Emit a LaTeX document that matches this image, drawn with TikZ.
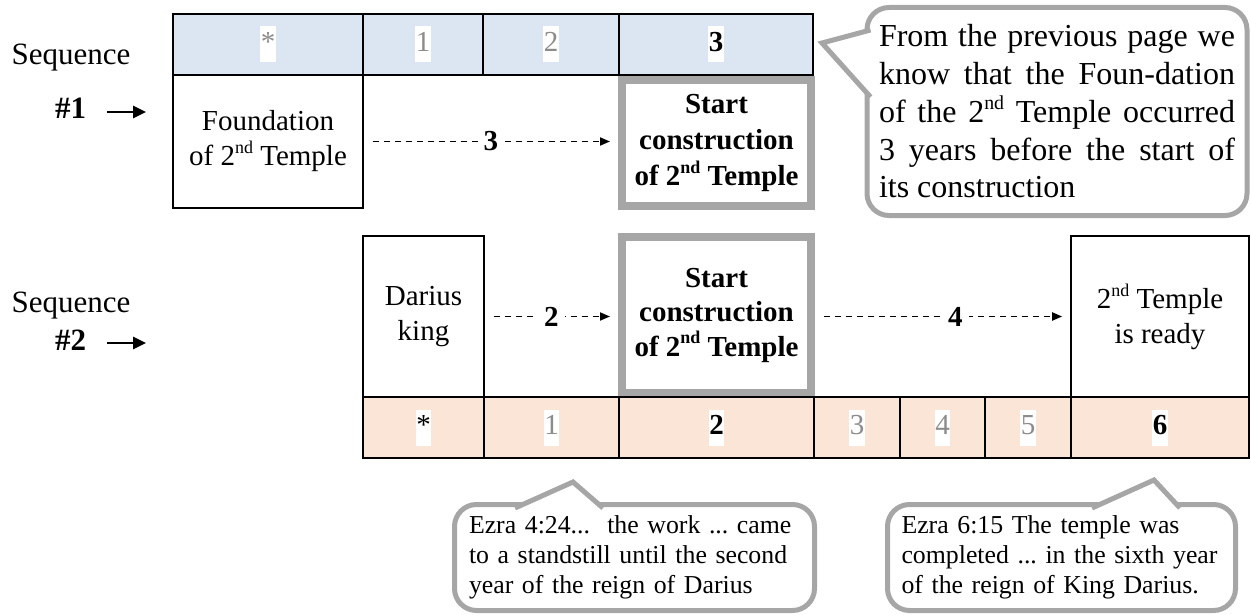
\documentclass[tikz,border=0pt]{standalone}
\usepackage{fontspec}
\usepackage{graphicx}
\setmainfont{Liberation Serif}
\usetikzlibrary{arrows.meta, positioning, calc}

\definecolor{yearblue}{HTML}{DCE6F2}
\definecolor{yearpeach}{HTML}{FBE5D6}
\definecolor{framegray}{HTML}{A6A6A6}
\definecolor{digitgray}{HTML}{8C8C8C}

\newcommand{\hlite}[1]{{\setlength{\fboxsep}{0.5pt}\colorbox{white}{\strut#1}}}
\newcommand{\gd}[1]{\hlite{\color{digitgray}#1}}
\newcommand{\nd}{2\raisebox{0.42em}{\scalebox{0.62}{nd}}}

\begin{document}
\begin{tikzpicture}[
        x=1pt, y=-1pt,
        yearcell/.style={draw, line width=1.6pt, minimum height=61pt, inner sep=0pt, font=\fontsize{29}{35}\selectfont},
        eventbox/.style={draw, line width=1.6pt, inner sep=0pt, align=center, font=\fontsize{29}{35}\selectfont},
        startbox/.style={draw=framegray, line width=8pt, inner sep=0pt, align=center, font=\fontsize{29}{34.5}\selectfont\bfseries},
        gapline/.style={dash pattern=on 6pt off 5pt, line width=1.8pt, -{Triangle[length=10pt,width=8pt]}, shorten <=9pt, shorten >=8pt},
        gaplabel/.style={fill=white, inner sep=6pt, font=\fontsize{29}{35}\selectfont\bfseries},
        seqlabel/.style={inner sep=0pt, anchor=base, font=\fontsize{31}{37}\selectfont},
        seqarrow/.style={line width=2.6pt, -{Triangle[length=13pt,width=12pt]}, shorten <=21pt},
        notebox/.style={draw=framegray, line width=5pt, rounded corners=22pt, inner sep=0pt},
        notetip/.style={fill=white, draw=framegray, line width=5pt, line join=miter},
    ]
    \useasboundingbox (0,0) rectangle (1251,615);

    % Sequence 1: years on top
    \foreach \name/\xa/\xb/\txt in {ya0/173/363/\gd{*}, ya1/363/483/\gd{1}, ya2/483/619/\gd{2}, ya3/619/813/\hlite{\textbf{3}}} {
        \pgfmathsetmacro{\cellw}{\xb-\xa}
        \pgfmathsetmacro{\cellx}{(\xa+\xb)/2}
        \node[yearcell, fill=yearblue, minimum width=\cellw pt] (\name) at (\cellx,44.5) {\txt};
    }

    \node[eventbox, minimum width=190pt, minimum height=133pt] (found) at (268,141.5) {Foundation\\of \nd{} Temple};
    \node[startbox, minimum width=189pt, minimum height=126pt, font=\fontsize{29}{36}\selectfont\bfseries] (startA) at (716.5,143) {Start\\construction\\of \nd{} Temple};
    \draw[gapline] (found.east) -- node[gaplabel] {3} (found.east -| startA.west);

    % Sequence 2: events, years below
    \node[eventbox, minimum width=121pt, minimum height=161pt] (darius) at (423.5,316.5) {Darius\\king};
    \node[startbox, minimum width=189pt, minimum height=156pt] (startB) at (716.5,315) {Start\\construction\\of \nd{} Temple};
    \node[eventbox, minimum width=178pt, minimum height=161pt] (ready) at (1160,316.5) {\nd{} Temple\\is ready};
    \draw[gapline] (darius.east) -- node[gaplabel] {2} (darius.east -| startB.west);
    \draw[gapline] (ready.west -| startB.east) -- node[gaplabel, pos=0.55] {4} (ready.west);

    \foreach \name/\xa/\xb/\txt in {yb0/363/484/\hlite{*}, yb1/484/619/\gd{1}, yb2/619/814/\hlite{\textbf{2}}, yb3/814/900/\gd{3}, yb4/900/985/\gd{4}, yb5/985/1071/\gd{5}, yb6/1071/1249/\hlite{\textbf{6}}} {
        \pgfmathsetmacro{\cellw}{\xb-\xa}
        \pgfmathsetmacro{\cellx}{(\xa+\xb)/2}
        \node[yearcell, fill=yearpeach, minimum width=\cellw pt] (\name) at (\cellx,427.5) {\txt};
    }

    % Row labels
    \node[seqlabel] (seqA) at (71,65) {Sequence};
    \node[seqlabel] (numA) at (70.5,119) {\textbf{\#1}};
    \coordinate (seqtipA) at (146,112);
    \draw[seqarrow] (numA.east |- seqtipA) -- (seqtipA);

    \node[seqlabel] (seqB) at (71,312) {Sequence};
    \node[seqlabel] (numB) at (70.5,350) {\textbf{\#2}};
    \coordinate (seqtipB) at (146,343);
    \draw[seqarrow] (numB.east |- seqtipB) -- (seqtipB);

    % Callouts
    \node[notebox, minimum width=380pt, minimum height=208pt, text width=356pt, align=justify,
        font=\fontsize{32}{37.75}\selectfont\frenchspacing] (noteA) at (1057,111.5)
        {From the previous page we\linebreak know that the Foun-dation\linebreak of the \nd{} Temple occurred\linebreak 3 years before the start of\linebreak its construction};
    \coordinate (tipA) at (822,43);
    \path[notetip] ($(noteA.north west)+(6,25)$) -- (tipA) -- ($(noteA.north west)+(6,92)$);

    \node[notebox, minimum width=360pt, minimum height=106pt, text width=331pt, align=left,
        font=\fontsize{25.8}{30}\selectfont\frenchspacing] (noteB) at (634.5,557.5)
        {Ezra 4:24...\ \ the work ... came\\to a standstill until the second\\year of the reign of Darius};
    \coordinate (tipB) at (573,482);
    \path[notetip] ($(noteB.north west)+(63,6)$) -- (tipB) -- ($(noteB.north west)+(151,6)$);

    \node[notebox, minimum width=348pt, minimum height=106pt, text width=320pt, align=left,
        font=\fontsize{25.8}{30}\selectfont\frenchspacing] (noteC) at (1061.5,557.5)
        {Ezra 6:15 The temple was\\completed ... in the sixth year\\of the reign of King Darius.};
    \coordinate (tipC) at (1154,480);
    \path[notetip] ($(noteC.north west)+(207,6)$) -- (tipC) -- ($(noteC.north west)+(295,6)$);
\end{tikzpicture}
\end{document}
